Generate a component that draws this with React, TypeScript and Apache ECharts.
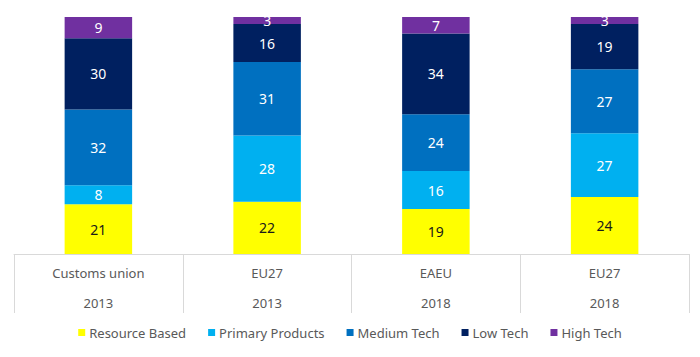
import React, { useEffect, useRef } from "react";
import * as echarts from "echarts";

const categories = ["Customs union\n2013", "EU27\n2013", "EAEU\n2018", "EU27\n2018"];
const seriesNames = ["Resource Based", "Primary Products", "Medium Tech", "Low Tech", "High Tech"];
const resourceBased = [21, 22, 19, 24];
const primaryProducts = [8, 28, 16, 27];
const mediumTech = [32, 31, 24, 27];
const lowTech = [30, 16, 34, 19];
const highTech = [9, 3, 7, 3];
const colors = ["#FFFF00", "#00B0F0", "#0070C0", "#002060", "#7030A0"];
const labelColors = ["#1a1a1a", "#ffffff", "#ffffff", "#ffffff", "#ffffff"];

export default function App() {
  const ref = useRef<HTMLDivElement>(null);
  useEffect(() => {
    if (!ref.current) return;
    const chart = echarts.init(ref.current, null, { renderer: "svg" });
    const values = [resourceBased, primaryProducts, mediumTech, lowTech, highTech];
    const font = "'Noto Sans', sans-serif";
    chart.setOption({
      animation: false,
      grid: { left: 14, right: 11, top: 17, bottom: 103, containLabel: false },
      xAxis: {
        type: "category",
        data: categories,
        axisLine: { show: true, lineStyle: { color: "#d9d9d9", width: 1 } },
        axisTick: { show: true, length: 59, alignWithLabel: false, lineStyle: { color: "#d9d9d9", width: 1 } },
        axisLabel: { interval: 0, margin: 4, lineHeight: 30, color: "#595959", fontSize: 13, fontFamily: font },
        splitLine: { show: false },
      },
      yAxis: { type: "value", min: 0, max: 100, show: false, splitLine: { show: false } },
      legend: {
        bottom: 13,
        left: "center",
        itemWidth: 7,
        itemHeight: 7,
        itemGap: 22,
        icon: "rect",
        textStyle: { color: "#595959", fontSize: 13, fontFamily: font, padding: [0, 0, 0, -1] },
        data: seriesNames,
      },
      series: seriesNames.map((name, i) => ({
        name,
        type: "bar",
        stack: "total",
        barWidth: "40%",
        data: values[i],
        itemStyle: { color: colors[i] },
        label: {
          show: true,
          position: "inside",
          color: labelColors[i],
          fontSize: 14,
          fontFamily: font,
        },
      })),
    });
    return () => chart.dispose();
  }, []);
  return <div ref={ref} style={{ position: "absolute", left: 0, top: 0, width: 700, height: 357 }} />;
}
